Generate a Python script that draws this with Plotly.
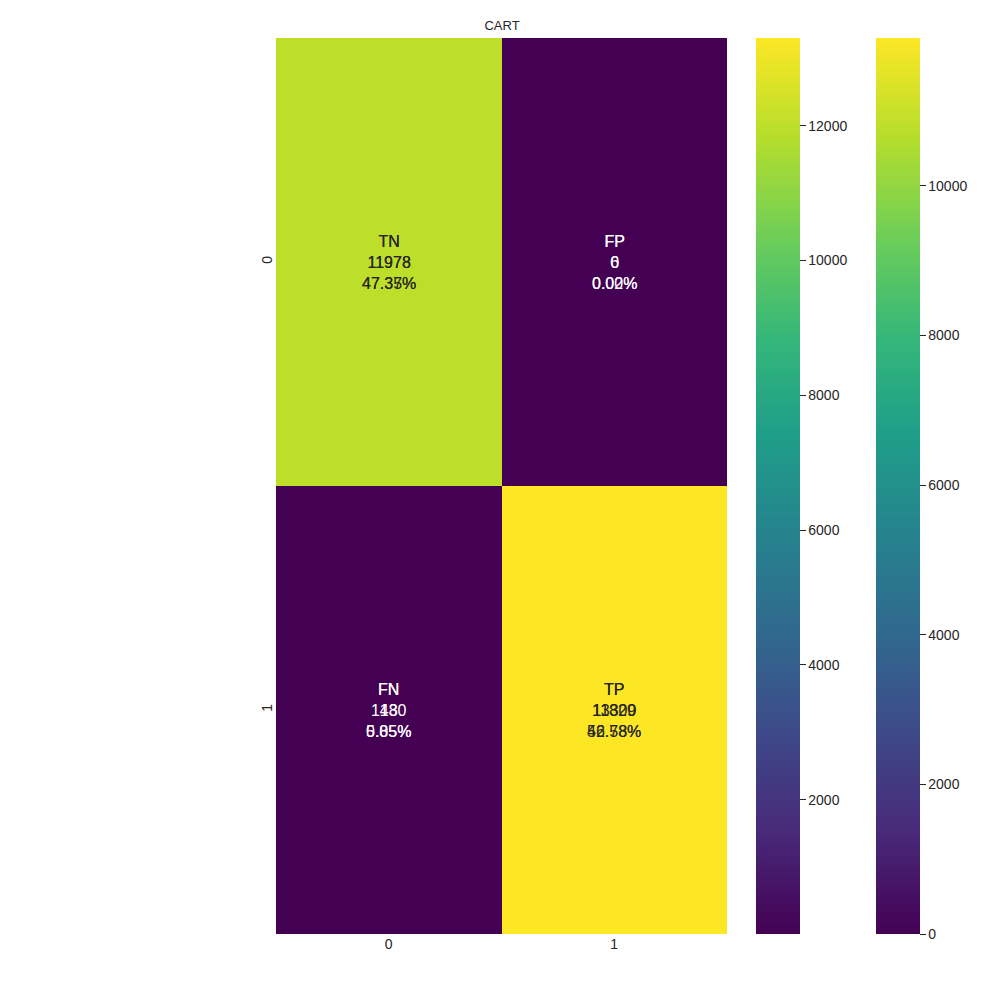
import plotly.graph_objects as go

# Data (two confusion matrices drawn on the same axes)
labels = ["TN", "FP", "FN", "TP"]
tick_labels = ["0", "1"]
# first-drawn matrix (colorbar at far right, range 0..11978)
counts_a = [11978, 0, 1480, 11829]
pct_a = ["47.37%", "0.00%", "5.85%", "46.78%"]
# second-drawn matrix (on top; colorbar next to the plot)
counts_b = [11978, 6, 13, 13300]
pct_b = ["47.35%", "0.02%", "0.05%", "52.58%"]

DARK = "#262626"
FONT = "Liberation Sans, Arial, sans-serif"
OFF = 0.008  # page body margin compensation

def grid(v):
    return [[v[0], v[1]], [v[2], v[3]]]

fig = go.Figure()

X0, X1 = 0.276 - OFF, 0.727 - OFF
Y0, Y1 = 1 - 0.934 + OFF, 1 - 0.038 + OFF

def cbar(xpos, tickvals):
    return dict(
        x=xpos - OFF, xanchor="left", xpad=0, ypad=0,
        y=(Y0 + Y1) / 2, yanchor="middle", len=Y1 - Y0, lenmode="fraction",
        thickness=44, thicknessmode="pixels", outlinewidth=0,
        ticks="outside", ticklen=6, tickwidth=1.2, tickcolor=DARK,
        tickvals=tickvals, tickformat="d",
        tickfont=dict(family=FONT, size=14, color=DARK),
    )

fig.add_trace(go.Heatmap(
    z=grid(counts_a), x=[0, 1], y=[0, 1], colorscale="Viridis",
    zmin=min(counts_a), zmax=max(counts_a),
    colorbar=cbar(0.876, [0, 2000, 4000, 6000, 8000, 10000]),
    hoverinfo="skip",
))
fig.add_trace(go.Heatmap(
    z=grid(counts_b), x=[0, 1], y=[0, 1], colorscale="Viridis",
    zmin=min(counts_b), zmax=max(counts_b),
    colorbar=cbar(0.756, [2000, 4000, 6000, 8000, 10000, 12000]),
    hoverinfo="skip",
))

annotations = []
for counts, pcts in [(counts_a, pct_a), (counts_b, pct_b)]:
    lo, hi = min(counts), max(counts)
    for i, (lab, c, p) in enumerate(zip(labels, counts, pcts)):
        frac = (c - lo) / (hi - lo)
        col = DARK if frac > 0.5 else "white"
        annotations.append(dict(
            x=i % 2, y=i // 2, xref="x", yref="y",
            text=f"{lab}<br>{c}<br>{p}", showarrow=False,
            font=dict(family=FONT, size=16, color=col),
        ))

fig.update_layout(
    width=1000, height=1000,
    margin=dict(l=0, r=0, t=0, b=0),
    paper_bgcolor="white", plot_bgcolor="white",
    title=dict(text="CART", x=0.502 - OFF, xanchor="center", y=1 - 0.025 + OFF, yanchor="middle",
               font=dict(family=FONT, size=13, color=DARK)),
    xaxis=dict(domain=[X0, X1], range=[-0.5, 1.5], tickvals=[0, 1], ticktext=tick_labels,
               showgrid=False, zeroline=False, ticks="", showline=False,
               tickfont=dict(family=FONT, size=14, color=DARK)),
    yaxis=dict(domain=[Y0, Y1], range=[1.5, -0.5], tickvals=[0, 1], ticktext=tick_labels,
               showgrid=False, zeroline=False, ticks="", showline=False, tickangle=-90,
               tickfont=dict(family=FONT, size=14, color=DARK)),
    annotations=annotations,
)

fig.write_html("out.html")
